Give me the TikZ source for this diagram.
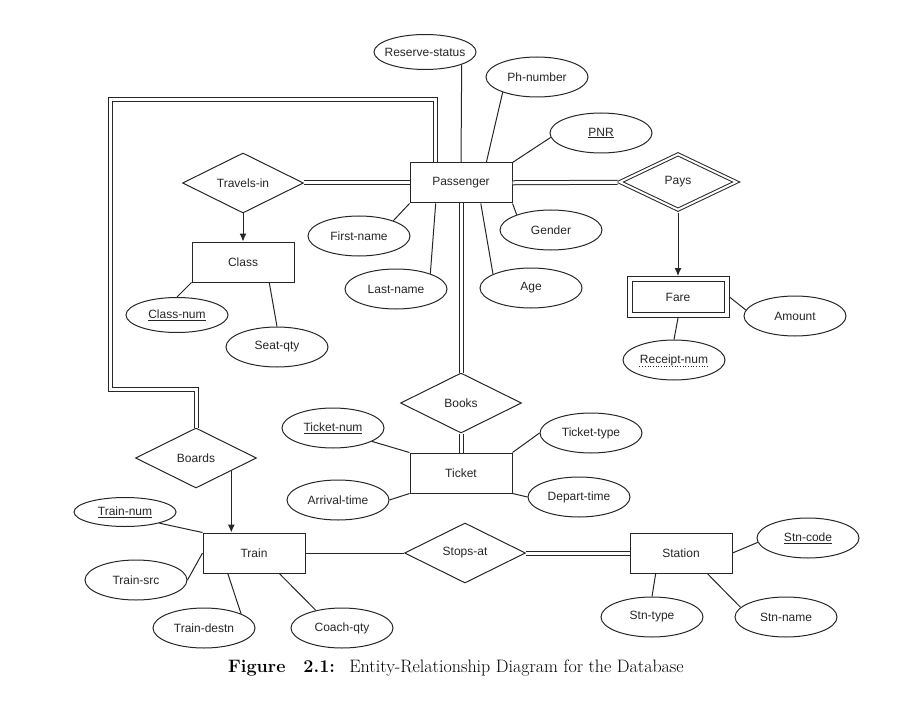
\documentclass[tikz,border=0pt]{standalone}
\usepackage{fontspec}
\newfontfamily\erfont{Liberation Sans}
\usetikzlibrary{arrows.meta,shapes.geometric}
\tikzset{
    >={Latex[length=8pt,width=7pt]},
    entity/.style = {
        draw,
        shape=rectangle,
        minimum width=102pt,
        minimum height=40pt,
        font=\erfont\fontsize{12}{14}\selectfont,
        text=black!85
    },
    weakentity/.style = {
        entity,
        double,
        double distance=4pt,
        minimum width=97pt,
        minimum height=36pt,
        outer sep=3pt
    },
    relation/.style = {
        draw,
        shape=diamond,
        aspect=2,
        minimum width=121pt,
        minimum height=60pt,
        inner sep=0pt,
        font=\erfont\fontsize{12}{14}\selectfont,
        text=black!85
    },
    weakrelation/.style = {
        relation,
        double,
        double distance=2pt,
        minimum width=118pt,
        minimum height=57pt,
        outer sep=2pt
    },
    attribute/.style = {
        draw,
        shape=ellipse,
        minimum width=102pt,
        minimum height=40pt,
        inner xsep=-6pt,
        inner ysep=0pt,
        font=\erfont\fontsize{12}{14}\selectfont,
        text=black!85
    },
    plaintext/.style = {
        inner sep=0pt,
        font=\erfont\fontsize{12}{14}\selectfont,
        text=black!85
    },
    dbl/.style = {
        double,
        double distance=3pt
    },
}

\begin{document}
\begin{tikzpicture}[x=1pt, y=-1pt, line width=1pt, draw=black!85]
    \useasboundingbox (0,0) rectangle (909,703);

    \node[entity] (pass) at (461,183) {Passenger};
    \node[relation] (trav) at (243,183) {Travels-in};
    \node[entity] (class) at (243,262) {Class};
    \node[weakrelation] (pays) at (678,182) {Pays};
    \node[weakentity] (fare) at (678,297) {Fare};
    \node[relation] (books) at (461,403) {Books};
    \node[entity] (ticket) at (461,473) {Ticket};
    \node[relation] (boards) at (196,458) {Boards};
    \node[entity] (train) at (254,553) {Train};
    \node[relation] (stops) at (465,553) {Stops-at};
    \node[entity] (station) at (681,553) {Station};

    \node[attribute, minimum height=35pt] (rstat) at (425,52) {Reserve-status};
    \node[attribute] (phnum) at (537,77) {Ph-number};
    \node[attribute] (pnr) at (601,133) {\underline{PNR}};
    \node[attribute] (fname) at (359,236) {First-name};
    \node[attribute] (gender) at (551,230) {Gender};
    \node[attribute] (lname) at (396,289) {Last-name};
    \node[attribute] (age) at (531,288) {Age};
    \node[attribute, minimum height=35pt] (clsnum) at (177,315) {\underline{Class-num}};
    \node[attribute] (seatqty) at (277,347) {Seat-qty};
    \node[attribute] (amount) at (795,316) {Amount};
    \node[attribute] (rcpt) at (674,360) {};
    \node[plaintext] (rcptlabel) at (rcpt) {Receipt-num};
    \node[attribute] (tknum) at (333,428) {\underline{Ticket-num}};
    \node[attribute] (tktype) at (591,433) {Ticket-type};
    \node[attribute] (arrtime) at (338,500) {Arrival-time};
    \node[attribute] (deptime) at (579,497) {Depart-time};
    \node[attribute, minimum height=29pt] (trnum) at (125,512) {\underline{Train-num}};
    \node[attribute] (trsrc) at (136,580) {Train-src};
    \node[attribute] (trdest) at (204,628) {Train-destn};
    \node[attribute] (coach) at (342,628) {Coach-qty};
    \node[attribute] (stncode) at (808,538) {\underline{Stn-code}};
    \node[attribute] (stntype) at (652,617) {Stn-type};
    \node[attribute] (stnname) at (786,617) {Stn-name};

    \coordinate (bendtop) at (435,100);
    \coordinate (bendleft) at (110,389);

    \path[draw, dbl] (pass) -- (trav);
    \path[draw, ->] (trav) -- (class);
    \path[draw, dbl] (pass) -- (pays);
    \path[draw, ->] (pays) -- (fare);
    \path[draw, dbl] (pass) -- (books);
    \path[draw, dbl] (books) -- (ticket);
    \path[draw, dbl] (pass.north -| bendtop) -- (bendtop) -| (bendleft) -| (boards.north);
    \path[draw, ->] (boards.-20) -- (boards.-20 |- train.north);
    \path[draw] (train) -- (stops);
    \path[draw, dbl] (stops) -- (station);

    \path[draw] (pass.north) -- (rstat.-19);
    \path[draw] (pass.39) -- (phnum.-156);
    \path[draw] (pass.north east) -- (pnr.185);
    \path[draw] (pass.south west) -- (fname.24);
    \path[draw] (pass.-141) -- (lname.24);
    \path[draw] (pass.south east) -- (gender.156);
    \path[draw] (pass.-46) -- (age.160);
    \path[draw] (class.south west) -- (clsnum.north);
    \path[draw] (class.-38) -- (seatqty.north);
    \path[draw] (fare.east) -- (amount.173);
    \path[draw] (fare.south) -- (rcpt.north);
    \path[draw, dotted, line width=0.7pt] (rcptlabel.south west) -- (rcptlabel.south east);
    \path[draw] (ticket.north west) -- (tknum.-19);
    \path[draw] (ticket.south west) -- (arrtime.east);
    \path[draw] (ticket.north east) -- (tktype.west);
    \path[draw] (ticket.south east) -- (deptime.west);
    \path[draw] (train.north west) -- (trnum.-18);
    \path[draw] (train.west) -- (trsrc.east);
    \path[draw] (train.-142) -- (trdest.21);
    \path[draw] (train.-39) -- (coach.146);
    \path[draw] (station.east) -- (stncode.185);
    \path[draw] (station.-141) -- (stntype.north);
    \path[draw] (station.-38) -- (stnname.168);

    \node[anchor=base, font=\fontsize{18}{21}\selectfont] (caption) at (456,672)
        {\textbf{Figure\quad 2.1:}\hspace{0.8em}Entity-Relationship Diagram for the Database};
\end{tikzpicture}
\end{document}
